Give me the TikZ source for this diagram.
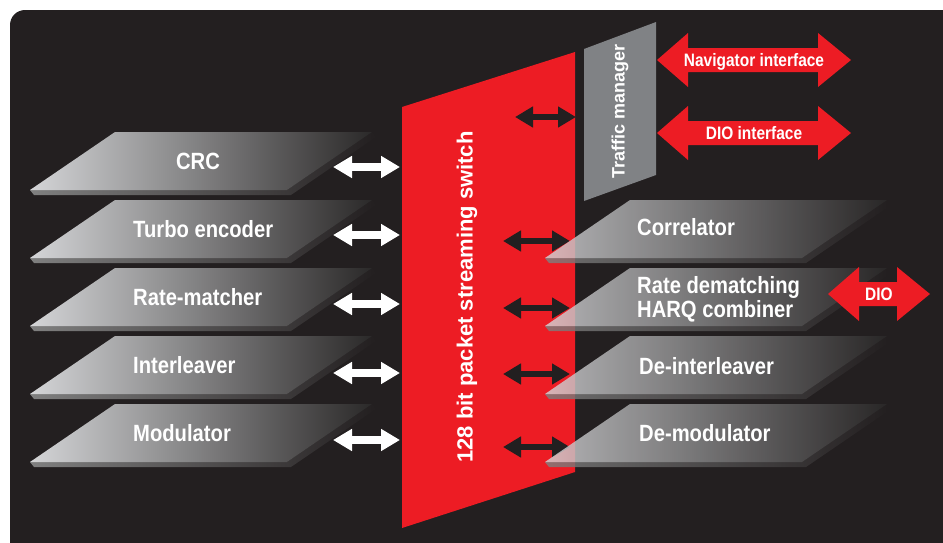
\documentclass[tikz,border=0pt]{standalone}
\usepackage{fontspec}
\setmainfont{Liberation Sans}
\newfontfamily\narrowfont[FakeStretch=0.86]{Liberation Sans}
\usepackage{tikz}
\usetikzlibrary{shapes,arrows,positioning,calc,arrows.meta}

\definecolor{bgdark}{HTML}{231F20}
\definecolor{swred}{HTML}{ED1C24}
\definecolor{tmgray}{HTML}{808285}
\definecolor{slablight}{HTML}{D4D5D7}
\definecolor{slabdark}{HTML}{2B2929}

% slanted block: top-left x, top y, opacity
\newcommand{\slab}[3]{%
  \shade[left color=black!50, right color=bgdark, opacity=#3]
    (#1-85,#2+58) -- (#1-81,#2+63) -- (#1+176,#2+63) -- (#1+261,#2+5) -- (#1+257,#2) -- (#1+172,#2+58) -- cycle;
  \shade[left color=slablight, right color=slabdark, opacity=#3]
    (#1,#2) -- (#1+257,#2) -- (#1+172,#2+58) -- (#1-85,#2+58) -- cycle;
}
% fat red arrow: name, centre x, centre y, half length, text
\newcommand{\redarrow}[5]{%
  \fill[swred] (#2-#4,#3) -- (#2-#4+31,#3-27) -- (#2-#4+31,#3-12) -- (#2+#4-33,#3-12) -- (#2+#4-33,#3-27)
    -- (#2+#4,#3) -- (#2+#4-33,#3+27) -- (#2+#4-33,#3+12) -- (#2-#4+31,#3+12) -- (#2-#4+31,#3+27) -- cycle;
  \node (#1) [arrowlabel] at (#2,#3) {#5};
}

\begin{document}
\begin{tikzpicture}[x=1pt, y=-1pt,
    blocklabel/.style={text=white, inner sep=0pt, text height=17pt, text depth=0pt,
      font=\narrowfont\bfseries\fontsize{23.5}{24}\selectfont},
    arrowlabel/.style={text=white, inner sep=0pt, text height=13pt, text depth=0pt,
      font=\narrowfont\bfseries\fontsize{18}{18}\selectfont},
    wharrow/.style={white, line width=8pt, {Triangle[length=19pt,width=21pt]}-{Triangle[length=19pt,width=21pt]}},
    bkarrow/.style={bgdark, line width=6pt, {Triangle[length=18pt,width=20pt]}-{Triangle[length=18pt,width=20pt]}}]

    \useasboundingbox (0,0) rectangle (943,542);
    \fill[white] (0,0) rectangle (943,542);
    \fill[bgdark, rounded corners=15pt] (10,10) rectangle (958,556);

    % transmit chain
    \slab{115}{132}{1}
    \slab{115}{200}{1}
    \slab{115}{268}{1}
    \slab{115}{336}{1}
    \slab{115}{404}{1}
    \node (crc) [blocklabel] at (198,161) {CRC};
    \node (turbo) [blocklabel, anchor=west] at (133,228.5) {Turbo encoder};
    \node (ratem) [blocklabel, anchor=west] at (133,296.5) {Rate-matcher};
    \node (inter) [blocklabel, anchor=west] at (133,365) {Interleaver};
    \node (modu) [blocklabel, anchor=west] at (133,433) {Modulator};

    % switch
    \fill[swred] (402,107) -- (575,52) -- (575,472) -- (402,528) -- cycle;
    \node (switch) [rotate=90, text=white, font=\bfseries\fontsize{22}{22}\selectfont] at (467,297) {128 bit packet streaming switch};

    \coordinate (crc-p) at (333,167);     \coordinate (sw-1) at (400,167);
    \coordinate (turbo-p) at (333,235);   \coordinate (sw-2) at (400,235);
    \coordinate (ratem-p) at (333,304);   \coordinate (sw-3) at (400,304);
    \coordinate (inter-p) at (333,373);   \coordinate (sw-4) at (400,373);
    \coordinate (modu-p) at (333,440);    \coordinate (sw-5) at (400,440);
    \draw[wharrow] (crc-p) -- (sw-1);
    \draw[wharrow] (turbo-p) -- (sw-2);
    \draw[wharrow] (ratem-p) -- (sw-3);
    \draw[wharrow] (inter-p) -- (sw-4);
    \draw[wharrow] (modu-p) -- (sw-5);

    \coordinate (sw-tm) at (515,117);     \coordinate (tm-p) at (576,117);
    \coordinate (sw-6) at (503,241);      \coordinate (corr-p) at (570,241);
    \coordinate (sw-7) at (503,308);      \coordinate (ratedm-p) at (570,308);
    \coordinate (sw-8) at (503,374);      \coordinate (deint-p) at (570,374);
    \coordinate (sw-9) at (503,447);      \coordinate (demod-p) at (570,447);
    \draw[bkarrow] (sw-tm) -- (tm-p);
    \draw[bkarrow] (sw-6) -- (corr-p);
    \draw[bkarrow] (sw-7) -- (ratedm-p);
    \draw[bkarrow] (sw-8) -- (deint-p);
    \draw[bkarrow] (sw-9) -- (demod-p);

    % receive chain
    \slab{630}{200}{0.82}
    \slab{630}{268}{0.82}
    \slab{630}{336}{0.82}
    \slab{630}{404}{0.82}
    \node (corr) [blocklabel, anchor=west] at (637,226.5) {Correlator};
    \node (ratedm) [blocklabel, anchor=west, align=left, text depth=24pt] at (637,321) {Rate dematching\\HARQ combiner};
    \node (deint) [blocklabel, anchor=west] at (639,366) {De-interleaver};
    \node (demod) [blocklabel, anchor=west] at (639,433) {De-modulator};

    % traffic manager
    \fill[tmgray] (584,49) -- (656,22) -- (656,175) -- (584,201) -- cycle;
    \node (tm) [rotate=90, text=white, font=\bfseries\fontsize{18}{18}\selectfont] at (620,111) {Traffic manager};

    \redarrow{nav}{754}{60}{97}{Navigator interface}
    \redarrow{dioif}{754}{133}{97}{DIO interface}
    \redarrow{dio}{879}{294}{51}{DIO}
\end{tikzpicture}
\end{document}
